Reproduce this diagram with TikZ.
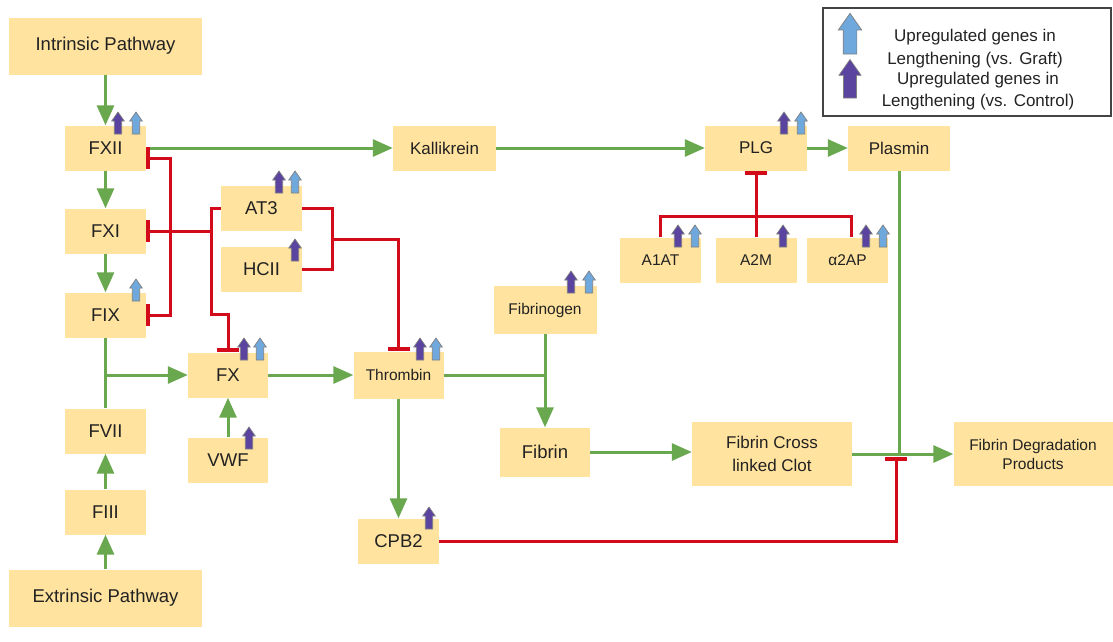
\documentclass[tikz,border=0pt]{standalone}
\usepackage{fontspec}
\setmainfont{Liberation Sans}
\usetikzlibrary{arrows.meta}

\definecolor{boxfill}{HTML}{FFE39F}
\definecolor{textgray}{HTML}{222222}
\definecolor{actgreen}{HTML}{6AA84F}
\definecolor{inhred}{HTML}{D20A1A}
\definecolor{genepurple}{HTML}{5B43A0}
\definecolor{geneblue}{HTML}{6FA8DC}
\definecolor{geneedge}{HTML}{808080}
\definecolor{legendedge}{HTML}{444444}

\begin{document}
\begin{tikzpicture}[
    x=1pt, y=-1pt,
    font=\fontsize{18.5}{22}\selectfont,
    % Connector styles
    act/.style={-{Triangle[length=20pt,width=17pt]}, line width=3pt, draw=actgreen},
    actline/.style={line width=3pt, draw=actgreen},
    inh/.style={-{Bar[width=22pt,line width=4pt]}, line width=3pt, draw=inhred},
    inhline/.style={line width=3pt, draw=inhred},
    % Box styles
    factor/.style={fill=boxfill, text=textgray, inner sep=0pt, align=center, minimum width=81pt, minimum height=45pt},
    pathway/.style={factor, minimum width=193pt, minimum height=57pt},
    mid/.style={font=\fontsize{17}{22.5}\selectfont},
    small/.style={font=\fontsize{15.5}{19}\selectfont},
    % Gene arrow icons
    up purple/.style={draw=geneedge, line width=0.7pt, fill=genepurple},
    up blue/.style={draw=geneedge, line width=0.7pt, fill=geneblue},
    genearrow/.pic={\path[pic actions] (-3.7,0) -- (3.7,0) -- (3.7,-13) -- (6.3,-13) -- (0,-22) -- (-6.3,-13) -- (-3.7,-13) -- cycle;}
]
\useasboundingbox (0,0) rectangle (1113,641);

% --- Intrinsic / extrinsic cascade ---
\node[pathway] (intr) at (105.5,46) {Intrinsic Pathway};
\node[factor] (fxii) at (105.5,148) {FXII};
\node[factor] (fxi) at (105.5,231) {FXI};
\node[factor] (fix) at (105.5,315) {FIX};
\node[factor] (fvii) at (105.5,431) {FVII};
\node[factor] (fiii) at (105.5,512) {FIII};
\node[pathway] (extr) at (105.5,598) {Extrinsic Pathway};

\draw[act] (intr) -- (fxii);
\draw[act] (fxii) -- (fxi);
\draw[act] (fxi) -- (fix);
\draw[actline] (fix) -- (fvii);
\draw[act] (extr) -- (fiii);
\draw[act] (fiii) -- (fvii);

% --- Common pathway ---
\node[factor, minimum width=80pt] (fx) at (228,375) {FX};
\node[factor, minimum width=80pt] (vwf) at (228,460) {VWF};
\node[factor] (at3) at (261.5,208) {AT3};
\node[factor] (hcii) at (261.5,269) {HCII};
\node[factor, small, minimum width=90pt, minimum height=47pt] (thr) at (398.5,375) {Thrombin};
\node[factor] (cpb2) at (398.5,541) {CPB2};

\draw[act] (fix.south |- fx.west) -- (fx.west);
\draw[act] (vwf) -- (fx);
\draw[act] (fx) -- (thr);
\draw[act] (thr) -- (cpb2);

% --- Fibrin formation ---
\node[factor, small, minimum width=103pt, minimum height=48pt] (fbg) at (545,310) {Fibrinogen};
\node[factor, minimum width=90pt, minimum height=49pt] (fib) at (545,452) {Fibrin};
\node[factor, mid, minimum width=160pt, minimum height=64pt] (clot) at (772,454) {Fibrin Cross\\linked Clot};
\node[factor, small, minimum width=159pt, minimum height=64pt] (fdp) at (1033,454) {Fibrin Degradation\\Products};

\draw[actline] (thr.east) -- (thr.east -| fbg.south);
\draw[act] (fbg) -- (fib);
\draw[act] (fib) -- (fib -| clot.west);
\draw[act] (clot) -- (fdp);

% --- Fibrinolysis ---
\node[factor, mid, minimum width=103pt] (kal) at (444.5,148) {Kallikrein};
\node[factor, mid, minimum width=102pt] (plg) at (756,148) {PLG};
\node[factor, mid, minimum width=102pt] (plas) at (899,148) {Plasmin};
\node[factor, small] (a1at) at (660.5,260) {A1AT};
\node[factor, small] (a2m) at (756,260) {A2M};
\node[factor, small] (a2ap) at (847.5,260) {α2AP};

\draw[act] (fxii) -- (kal);
\draw[act] (kal) -- (plg);
\draw[act] (plg) -- (plas);
\coordinate (fdpjoin) at (plas.south |- clot.east);
\draw[actline] (plas.south) -- (fdpjoin);

% --- Inhibitions ---
\coordinate (xiibrace) at (170,231);
\draw[inh] (xiibrace) |- ([yshift=-10pt]fxii.east);
\draw[inh] (xiibrace) |- (fix.east);

\coordinate (at3fork) at (211,231);
\coordinate (fxknee) at (211,314);
\draw[inh] (at3.west) -| (at3fork) -- (fxi.east);
\draw[inh] (at3fork) -- (fxknee) -| (fx.north);

\coordinate (serpfork) at (332,239);
\draw[inhline] (at3.east) -| (serpfork) |- (hcii.east);
\draw[inh] (serpfork) -| (thr.north);

\coordinate (plgjoin) at (756,216);
\draw[inhline] (a1at.north) |- (plgjoin) -| ([xshift=4pt]a2ap.north);
\draw[inh] (a2m.north) -- (plg.south);

\draw[inh] (cpb2.east) -| ([xshift=-3pt,yshift=-3pt]fdpjoin);

% --- Gene regulation icons ---
\foreach \gx/\gy in {118/134, 279/193, 295/261, 244/360, 420/360, 784/134, 678/247, 783/247, 866/247, 571/293, 249/449, 429/529}
  \pic[up purple] at (\gx,\gy) {genearrow};
\foreach \gx/\gy in {136/134, 136/301, 295/193, 260/360, 436/360, 801/134, 695/247, 883/247, 589/293}
  \pic[up blue] at (\gx,\gy) {genearrow};

% --- Legend ---
\node[draw=legendedge, line width=1.2pt, minimum width=288pt, minimum height=108pt, inner sep=0pt] (legend) at (967,62) {};
\pic[up blue, scale=1.85] at (850,54) {genearrow};
\pic[up purple, scale=1.75] at (850,98) {genearrow};
\node[mid, align=center, text=textgray] (legGraft) at (975,48.5) {Upregulated genes in\\Lengthening (vs. Graft)};
\node[mid, align=center, text=textgray] (legCtrl) at (978,91) {Upregulated genes in\\Lengthening (vs. Control)};

\end{tikzpicture}
\end{document}
